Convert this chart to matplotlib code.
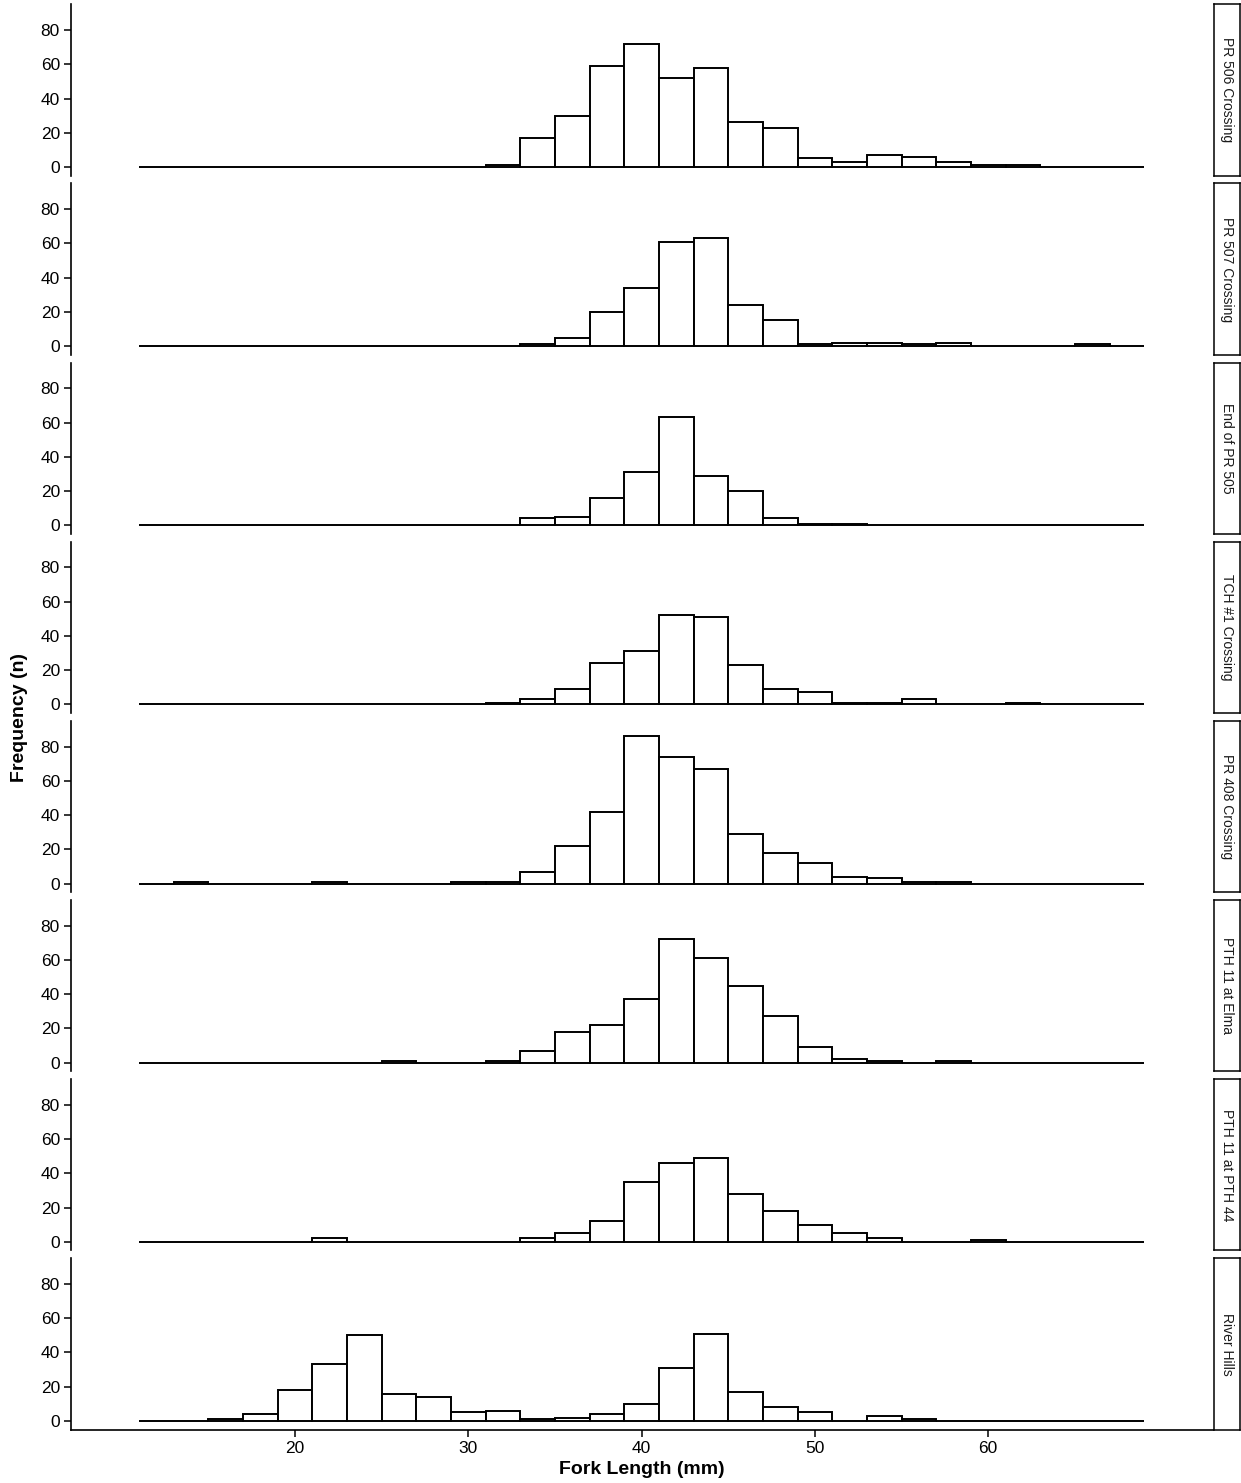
import numpy as np
import matplotlib
matplotlib.use("Agg")
import matplotlib.pyplot as plt

plt.rcParams['font.family'] = ['Liberation Sans', 'DejaVu Sans']

# bin edges: 11, 13, ..., 69 (binwidth 2 mm)
bin_edges = np.arange(11, 70, 2)

sites = ["PR 506 Crossing", "PR 507 Crossing", "End of PR 505", "TCH #1 Crossing",
         "PR 408 Crossing", "PTH 11 at Elma", "PTH 11 at PTH 44", "River Hills"]

# counts per bin, keyed by bin left edge
pr506 = {31: 1, 33: 17, 35: 30, 37: 59, 39: 72, 41: 52, 43: 58, 45: 26, 47: 23,
         49: 5, 51: 3, 53: 7, 55: 6, 57: 3, 59: 1, 61: 1}
pr507 = {33: 1, 35: 5, 37: 20, 39: 34, 41: 61, 43: 63, 45: 24, 47: 15, 49: 1,
         51: 2, 53: 2, 55: 1, 57: 2, 65: 1}
end505 = {33: 4, 35: 5, 37: 16, 39: 31, 41: 63, 43: 29, 45: 20, 47: 4, 49: 1, 51: 1}
tch1 = {31: 1, 33: 3, 35: 9, 37: 24, 39: 31, 41: 52, 43: 51, 45: 23, 47: 9,
        49: 7, 51: 1, 53: 1, 55: 3, 61: 1}
pr408 = {13: 1, 21: 1, 29: 1, 31: 1, 33: 7, 35: 22, 37: 42, 39: 86, 41: 74, 43: 67,
         45: 29, 47: 18, 49: 12, 51: 4, 53: 3, 55: 1, 57: 1}
elma = {25: 1, 31: 1, 33: 7, 35: 18, 37: 22, 39: 37, 41: 72, 43: 61, 45: 45,
        47: 27, 49: 9, 51: 2, 53: 1, 57: 1}
pth44 = {21: 2, 33: 2, 35: 5, 37: 12, 39: 35, 41: 46, 43: 49, 45: 28, 47: 18,
         49: 10, 51: 5, 53: 2, 59: 1}
riverhills = {15: 1, 17: 4, 19: 18, 21: 33, 23: 50, 25: 16, 27: 14, 29: 5, 31: 6,
              33: 1, 35: 2, 37: 4, 39: 10, 41: 31, 43: 51, 45: 17, 47: 8, 49: 5,
              53: 3, 55: 1}

site_counts = [pr506, pr507, end505, tch1, pr408, elma, pth44, riverhills]

y_ticks = [0, 20, 40, 60, 80]
x_ticks = [20, 30, 40, 50, 60]

W, H = 1241, 1483
fig = plt.figure(figsize=(W / 100, H / 100), dpi=100)

left, right = 71, 1213
top0, step, ph = 4.3, 179.14, 171.3
strip_w = 26

for i, (site, counts) in enumerate(zip(sites, site_counts)):
    top = top0 + i * step
    ax = fig.add_axes([left / W, 1 - (top + ph) / H, (right - left) / W, ph / H])
    heights = [counts.get(e, 0) for e in bin_edges[:-1]]
    ax.bar(bin_edges[:-1], heights, width=2, align='edge', color='white',
           edgecolor='black', linewidth=1.4)
    ax.set_xlim(7.07, 72.97)
    ax.set_ylim(-5, 95)
    ax.set_yticks(y_ticks)
    ax.set_xticks(x_ticks)
    for s in ['top', 'right']:
        ax.spines[s].set_visible(False)
    ax.spines['left'].set_linewidth(1.2)
    ax.spines['bottom'].set_linewidth(1.2)
    ax.tick_params(axis='y', labelsize=12.5, length=5, width=1.1, colors='black', pad=3)
    ax.tick_params(axis='x', labelsize=12.5, length=5, width=1.1, colors='black', pad=3)
    if i < len(sites) - 1:
        ax.spines['bottom'].set_visible(False)
        ax.tick_params(axis='x', bottom=False, labelbottom=False)

    # facet strip on the right
    sax = fig.add_axes([(right + 1) / W, 1 - (top + ph) / H, strip_w / W, ph / H])
    sax.set_xticks([])
    sax.set_yticks([])
    for s in sax.spines.values():
        s.set_linewidth(1.1)
    sax.text(0.5, 0.5, site, rotation=270, ha='center', va='center', fontsize=10,
             color='#1a1a1a', transform=sax.transAxes)

fig.text(20 / W, 1 - 718 / H, "Frequency (n)", rotation=90, ha='center', va='center',
         fontsize=14, fontweight='bold')
fig.text(642 / W, 1 - 1469 / H, "Fork Length (mm)", ha='center', va='center',
         fontsize=14, fontweight='bold')

fig.savefig("out.png", dpi=100)
